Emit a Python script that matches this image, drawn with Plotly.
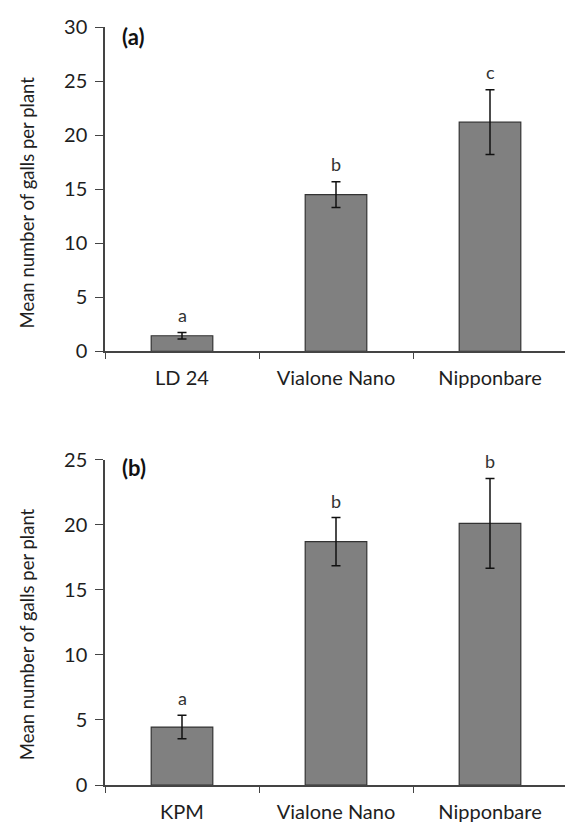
import plotly.graph_objects as go

# ---- data ----
categories_a = ["LD 24", "Vialone Nano", "Nipponbare"]
means_a = [1.45, 14.5, 21.2]
errors_a = [0.3, 1.2, 3.0]
letters_a = ["a", "b", "c"]

categories_b = ["KPM", "Vialone Nano", "Nipponbare"]
means_b = [4.45, 18.7, 20.1]
errors_b = [0.9, 1.85, 3.45]
letters_b = ["a", "b", "b"]

yticks_a = [0, 5, 10, 15, 20, 25, 30]
yticks_b = [0, 5, 10, 15, 20, 25]
ytitle = "Mean number of galls per plant"

FONT = "Lato, 'Open Sans', sans-serif"
BAR = "#808080"
EDGE = "#333333"
TXT = "#1e1e1e"

fig = go.Figure()

def add_panel(cats, means, errs, xa, ya):
    fig.add_trace(go.Bar(
        x=cats, y=means, xaxis=xa, yaxis=ya,
        marker=dict(color=BAR, line=dict(color=EDGE, width=1.2)),
        error_y=dict(type="data", array=errs, visible=True,
                     color="#111111", thickness=1.5, width=4.5),
        showlegend=False, hoverinfo="skip",
    ))

add_panel(categories_a, means_a, errors_a, "x", "y")
add_panel(categories_b, means_b, errors_b, "x2", "y2")

axis_common = dict(showline=True, linecolor="#444444", linewidth=1.5,
                   showgrid=False, zeroline=False)
xcommon = dict(type="category", ticks="outside", ticklen=6, tickcolor="#444444",
               tickson="boundaries", ticklabelstandoff=8,
               tickfont=dict(size=20, family=FONT, color=TXT))
ycommon = dict(ticks="outside", ticklen=8, tickcolor="#444444", ticklabelstandoff=4,
               tickfont=dict(size=20, family=FONT, color=TXT))

fig.update_layout(
    width=565, height=821,
    margin=dict(l=97, r=6, t=9, b=41),
    paper_bgcolor="white", plot_bgcolor="white",
    bargap=0.6,
    font=dict(family=FONT, color=TXT, size=16),
    xaxis=dict(domain=[0, 1], anchor="y", **xcommon, **axis_common),
    yaxis=dict(domain=[0.572, 1], anchor="x", range=[0, 30], tickvals=yticks_a,
               **ycommon, **axis_common),
    xaxis2=dict(domain=[0, 1], anchor="y2", **xcommon, **axis_common),
    yaxis2=dict(domain=[0, 0.4293], anchor="x2", range=[0, 25], tickvals=yticks_b,
                **ycommon, **axis_common),
)

annotations = []
for cats, means, errs, letters, xr, yr, sh in [
    (categories_a, means_a, errors_a, letters_a, "x", "y", 18),
    (categories_b, means_b, errors_b, letters_b, "x2", "y2", 17),
]:
    for c, m, e, l in zip(cats, means, errs, letters):
        annotations.append(dict(x=c, y=m + e, xref=xr, yref=yr, text=l,
                                showarrow=False, yanchor="middle", yshift=sh,
                                font=dict(size=18, family=FONT, color="#333333")))

# y-axis titles
for yp in [0.7685, 0.199]:
    annotations.append(dict(x=-0.1688, y=yp, xref="paper", yref="paper", text=ytitle,
                            showarrow=False, textangle=-90, xanchor="center",
                            yanchor="middle",
                            font=dict(size=18.5, family=FONT, color=TXT)))

# panel labels
annotations.append(dict(x=0.0325, y=0.988, xref="paper", yref="paper", text="<b>(a)</b>",
                        showarrow=False, xanchor="left", yanchor="middle",
                        font=dict(size=22, family=FONT, color="#111111")))
annotations.append(dict(x=0.0325, y=0.419, xref="paper", yref="paper", text="<b>(b)</b>",
                        showarrow=False, xanchor="left", yanchor="middle",
                        font=dict(size=22, family=FONT, color="#111111")))
fig.update_layout(annotations=annotations)

fig.write_html("out.html")
